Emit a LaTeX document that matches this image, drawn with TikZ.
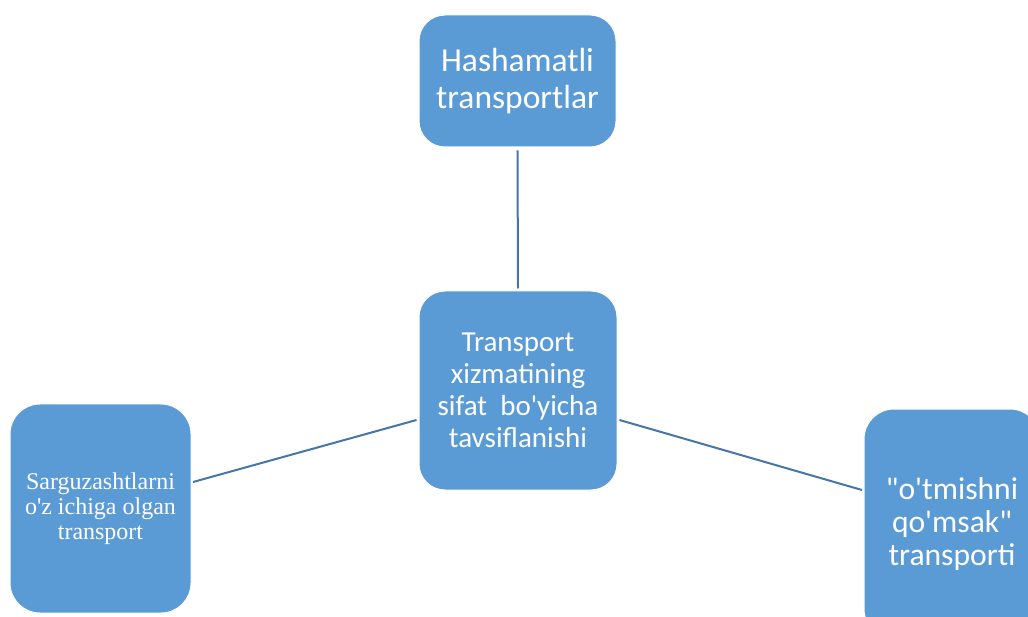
\documentclass[tikz,border=0pt]{standalone}
\usepackage{fontspec}
\newfontfamily\carl{Carlito}
\newfontfamily\tms{Liberation Serif}
\definecolor{boxblue}{HTML}{5B9BD5}
\definecolor{linkblue}{HTML}{4575AA}
\begin{document}
\begin{tikzpicture}[x=1pt,y=-1pt,
  cbox/.style={rectangle, rounded corners=26pt, fill=boxblue, draw=white, line width=1pt,
    text=white, align=center, inner sep=0pt},
  link/.style={draw=linkblue, line width=2pt}]
\useasboundingbox (0,0) rectangle (1028,617);
\node[cbox, minimum width=197pt, minimum height=132pt,
  font={\carl\fontsize{33.5}{37}\selectfont}] (top) at (517.5,81)
  {Hashamatli\\transportlar};
\node[cbox, minimum width=198pt, minimum height=199pt,
  font={\carl\fontsize{29}{32}\selectfont}] (mid) at (518,390.5)
  {Transport\\xizmatining\\sifat\ \ bo\textquotesingle yicha\\tavsiflanishi};
\node[cbox, minimum width=181pt, minimum height=209pt, rounded corners=30pt,
  font={\tms\fontsize{24}{25}\selectfont}] (left) at (100.5,508.5)
  {Sarguzashtlarni\\o\textquotesingle z ichiga olgan\\transport};
\node[cbox, minimum width=176pt, minimum height=230pt, rounded corners=30pt,
  font={\carl\fontsize{31.6}{33}\selectfont}] (right) at (952,524)
  {\textquotedbl o\textquotesingle tmishni\\qo\textquotesingle msak\textquotedbl\\transporti};
\draw[link] ([yshift=-3pt]top.south) -- ([yshift=2pt]mid.north);
\draw[link] ([xshift=-2pt]mid.west |- 0,420) coordinate (ml) -- (193,482) coordinate (lr);
\draw[link] ([xshift=2pt]mid.east |- 0,420) coordinate (mr) -- (862,490) coordinate (rl);
\end{tikzpicture}
\end{document}
